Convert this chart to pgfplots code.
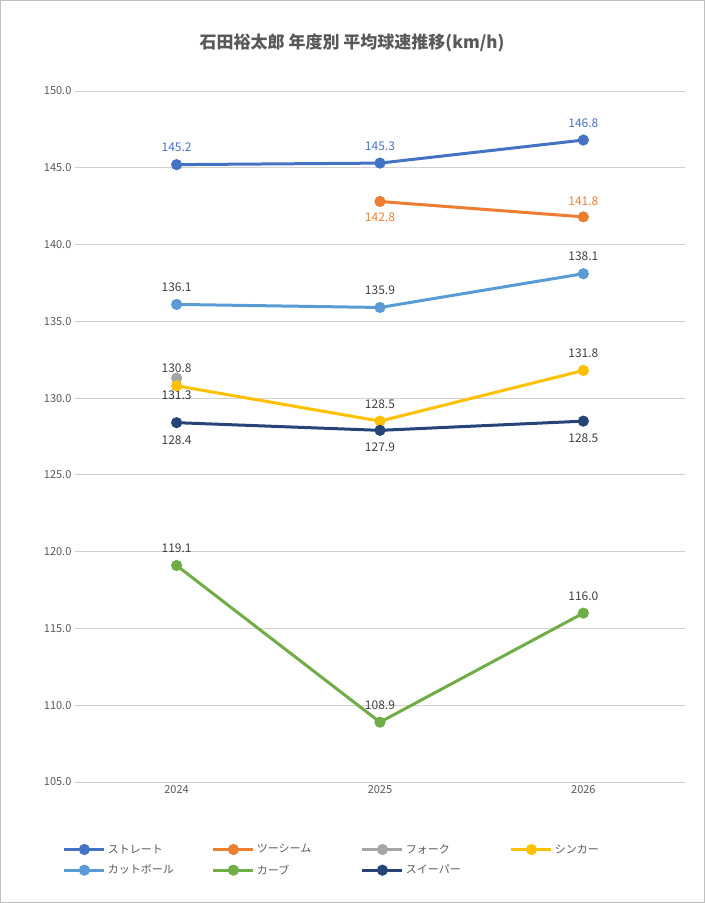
\documentclass[border=0pt]{standalone}
\usepackage{pgfplots}
\pgfplotsset{compat=1.18}
\usepackage{fontspec}
\setmainfont{Noto Sans CJK JP}
\definecolor{c1}{HTML}{4472C4}
\definecolor{c2}{HTML}{ED7D31}
\definecolor{c3}{HTML}{A5A5A5}
\definecolor{c4}{HTML}{FFC000}
\definecolor{c5}{HTML}{5B9BD5}
\definecolor{c6}{HTML}{70AD47}
\definecolor{c7}{HTML}{264478}
\definecolor{txt}{HTML}{595959}
\definecolor{lbl}{HTML}{404040}
\begin{document}
\begin{tikzpicture}[x=1pt,y=1pt]
\begin{axis}[at={(0,0)},anchor=south west,
  width=610pt,height=691pt,scale only axis,
  xmin=-0.5,xmax=2.5,ymin=105,ymax=150,
  xtick={0,1,2},xticklabels={2024,2025,2026},
  ytick={105,110,...,150},
  yticklabel style={/pgf/number format/fixed,/pgf/number format/fixed zerofill,/pgf/number format/precision=1},
  /pgf/number format/assume math mode=true,
  tick label style={font=\fontsize{11}{13}\selectfont,text=txt},
  ymajorgrids, grid style={draw=black!18,line width=0.8pt},
  axis line style={draw=none}, major tick length=0pt,
  xtick style={draw=none},ytick style={draw=none},
  every axis plot/.append style={line width=3pt,mark=*,mark size=4pt},
  nodes near coords style={font=\fontsize{12}{14}\selectfont,text=lbl,/pgf/number format/fixed,/pgf/number format/fixed zerofill,/pgf/number format/precision=1},
  legend columns=4,
  legend style={at={(-0.025,-0.084)},anchor=north west,draw=none,fill=none,
    font=\fontsize{11}{13}\selectfont,text=txt,
    /tikz/every even column/.append style={column sep=4pt},
    nodes={text width=98pt,align=left,inner sep=2pt},row sep=6pt},
  legend image code/.code={\draw[mark repeat=2,mark phase=2,#1] plot coordinates {(0pt,0pt)(20pt,0pt)(40pt,0pt)};},
  clip=false]
\addplot[c1,nodes near coords,every node near coord/.append style={anchor=south,yshift=8pt,text=c1}] coordinates {(0,145.2)(1,145.3)(2,146.8)};
\addlegendentry{ストレート}
\addplot[c2] coordinates {(1,142.8)(2,141.8)};
\addlegendentry{ツーシーム}
\addplot[c3,nodes near coords,every node near coord/.append style={anchor=north,yshift=-8pt,text=black!80}] coordinates {(0,131.3)};
\addlegendentry{フォーク}
\addplot[c4,nodes near coords,every node near coord/.append style={anchor=south,yshift=8pt}] coordinates {(0,130.8)(1,128.5)(2,131.8)};
\addlegendentry{シンカー}
\addplot[c5,nodes near coords,every node near coord/.append style={anchor=south,yshift=8pt}] coordinates {(0,136.1)(1,135.9)(2,138.1)};
\addlegendentry{カットボール}
\addplot[c6,nodes near coords,every node near coord/.append style={anchor=south,yshift=8pt}] coordinates {(0,119.1)(1,108.9)(2,116.0)};
\addlegendentry{カーブ}
\addplot[c7,nodes near coords,every node near coord/.append style={anchor=north,yshift=-8pt}] coordinates {(0,128.4)(1,127.9)(2,128.5)};
\addlegendentry{スイーパー}
\node[font=\fontsize{12}{14}\selectfont,text=c2,anchor=north,yshift=-8pt] at (axis cs:1,142.8) {142.8};
\node[font=\fontsize{12}{14}\selectfont,text=c2,anchor=south,yshift=8pt] at (axis cs:2,141.8) {141.8};
\end{axis}
\node[font=\fontsize{17}{20}\selectfont\bfseries,text=txt] at (277pt,739pt) {石田裕太郎 年度別 平均球速推移(km/h)};
\draw[black!25,line width=0.8pt] (-74.5pt,-120.5pt) rectangle (629.5pt,781.5pt);
\end{tikzpicture}
\end{document}
